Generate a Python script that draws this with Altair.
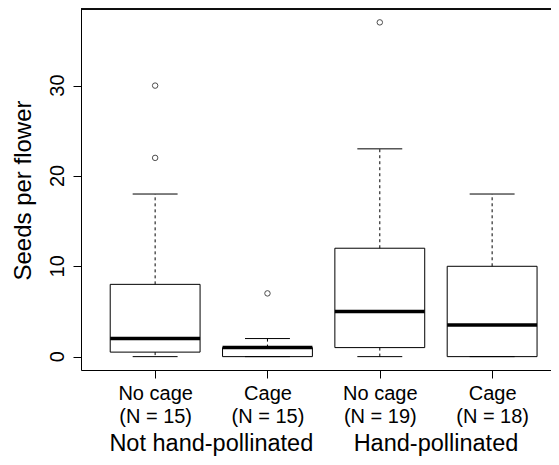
import json
import altair as alt
import pandas as pd

# ---- data ----
treatments = ["No cage", "Cage", "No cage", "Cage"]
sample_sizes = [15, 15, 19, 18]
groups = ["Not hand-pollinated", "Hand-pollinated"]
q1 = [0.5, 0, 1, 0]
medians = [2, 1, 5, 3.5]
q3 = [8, 1, 12, 10]
whisker_low = [0, 0, 0, 0]
whisker_high = [18, 2, 23, 18]
outlier_box = [1, 1, 2, 3]          # box number (1-based) for each outlier
outlier_values = [22, 30, 7, 37]
y_ticks = [0, 10, 20, 30]

# ---- layout ----
PAD_L, PAD_T = 73, 1
W, H = 470, 361
PX_PER_UNIT = 112.33
X_MIN = 0.34
X_MAX = X_MIN + W / PX_PER_UNIT
Y_DOM = [-1.48, 38.48]
FONT = "Liberation Sans"
TOTAL_H = 449

boxes = pd.DataFrame({
    "pos": list(range(1, len(treatments) + 1)),
    "q1": q1, "median": medians, "q3": q3,
    "lo": whisker_low, "hi": whisker_high,
})
outs = pd.DataFrame({"pos": outlier_box, "value": outlier_values})
grp = pd.DataFrame({"group": groups, "center": [1.5, 3.5]})
yt = pd.DataFrame({"v": y_ticks})

tick_labels = [[t, f"(N = {n})"] for t, n in zip(treatments, sample_sizes)]
label_expr = json.dumps(tick_labels) + "[datum.value - 1]"

xs = alt.Scale(domain=[X_MIN, X_MAX], nice=False, zero=False)
ys = alt.Scale(domain=Y_DOM, nice=False, zero=False)

x_axis = alt.Axis(values=[1, 2, 3, 4], labelExpr=label_expr, title=None,
                  grid=False, tickSize=8, tickColor="black", domainColor="black",
                  labelFontSize=20, labelFont=FONT, labelColor="black",
                  labelLineHeight=23.5, labelPadding=5, labelFlush=False)
y_axis = alt.Axis(values=y_ticks, title="Seeds per flower", grid=False,
                  tickSize=8, tickColor="black", domainColor="black",
                  labels=False, titleFontSize=24, titleFont=FONT,
                  titleFontWeight="normal", titleColor="black",
                  titleAngle=270, titleAlign="center", titleBaseline="alphabetic",
                  titleX=-51, titleY=181)

base = alt.Chart(boxes).transform_calculate(
    left="datum.pos - 0.4", right="datum.pos + 0.4",
    cl="datum.pos - 0.2", cr="datum.pos + 0.2")

rect = base.mark_rect(fill="white", stroke="black", strokeWidth=1).encode(
    x=alt.X("left:Q", scale=xs, axis=x_axis), x2="right:Q",
    y=alt.Y("q1:Q", scale=ys, axis=y_axis), y2="q3:Q")

whisk_up = base.mark_rule(color="black", strokeWidth=1, strokeDash=[3, 3]).encode(
    x=alt.X("pos:Q", scale=xs), y=alt.Y("q3:Q", scale=ys), y2="hi:Q")
whisk_lo = base.mark_rule(color="black", strokeWidth=1, strokeDash=[3, 3]).encode(
    x=alt.X("pos:Q", scale=xs), y=alt.Y("q1:Q", scale=ys), y2="lo:Q")
cap_hi = base.mark_rule(color="black", strokeWidth=1).encode(
    x=alt.X("cl:Q", scale=xs), x2="cr:Q", y=alt.Y("hi:Q", scale=ys))
cap_lo = base.mark_rule(color="black", strokeWidth=1).encode(
    x=alt.X("cl:Q", scale=xs), x2="cr:Q", y=alt.Y("lo:Q", scale=ys))
med = base.mark_rule(color="black", strokeWidth=3.5).encode(
    x=alt.X("left:Q", scale=xs), x2="right:Q", y=alt.Y("median:Q", scale=ys))

points = alt.Chart(outs).mark_point(shape="circle", filled=False, color="black",
                                    size=30, strokeWidth=1).encode(
    x=alt.X("pos:Q", scale=xs), y=alt.Y("value:Q", scale=ys))

top_border = alt.Chart(boxes).mark_rule(color="black", strokeWidth=1).encode(
    x=alt.value(0), x2=alt.value(W), y=alt.value(0))

ytick_text = alt.Chart(yt).mark_text(fontSize=20, font=FONT, color="black",
                                     angle=270, align="center",
                                     baseline="alphabetic").encode(
    x=alt.value(-17), y=alt.Y("v:Q", scale=ys), text=alt.Text("v:Q", format="d"))

group_text = alt.Chart(grp).mark_text(fontSize=23.5, font=FONT, color="black",
                                      baseline="alphabetic", align="center").encode(
    x=alt.X("center:Q", scale=xs), y=alt.value(442), text="group:N")

chart = alt.layer(rect, whisk_up, whisk_lo, cap_hi, cap_lo, med, points,
                  top_border, ytick_text, group_text).properties(
    width=W, height=H,
    autosize=alt.AutoSizeParams(type="none"),
    padding={"left": PAD_L, "top": PAD_T, "right": 0, "bottom": TOTAL_H - PAD_T - H},
).configure_view(stroke=None).configure(background="white")

chart.save("out.html", embed_options={"renderer": "svg", "actions": False})
